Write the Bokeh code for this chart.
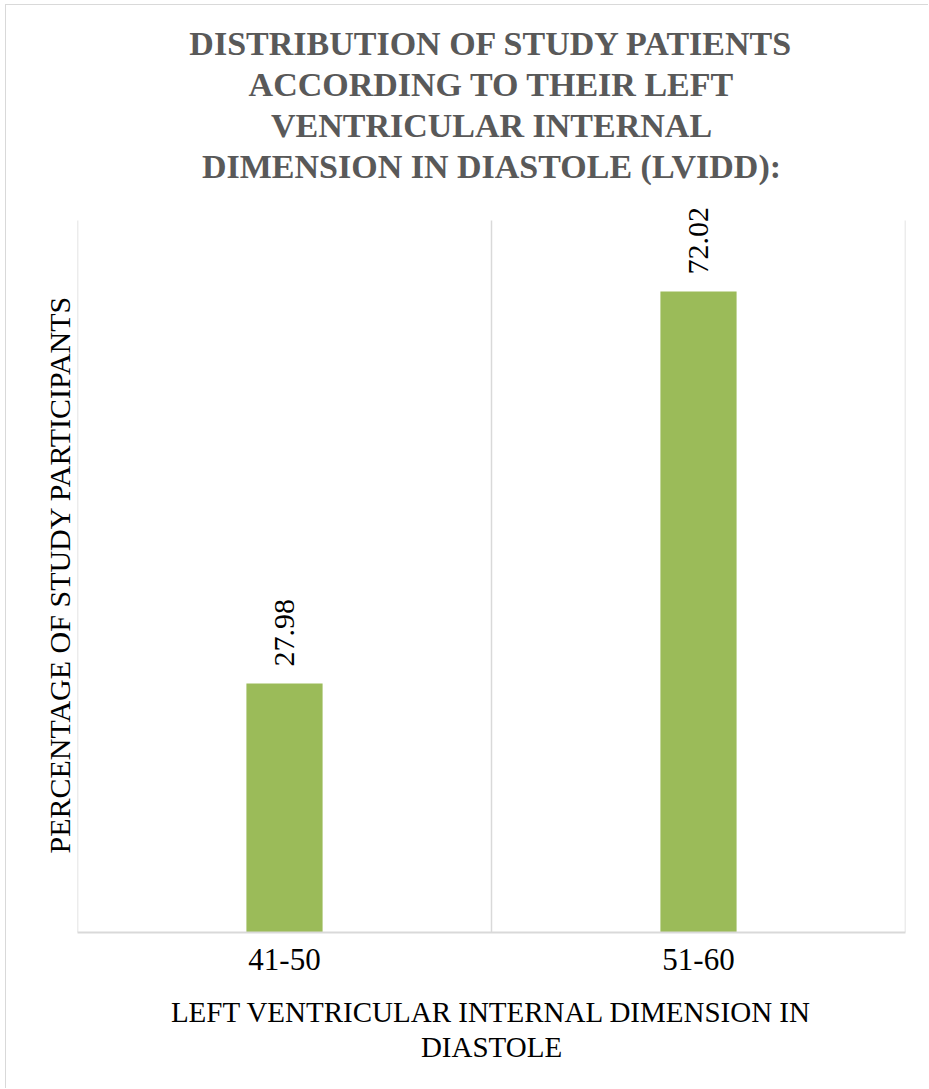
from math import pi

from bokeh.embed import file_html
from bokeh.models import ColumnDataSource, FixedTicker, Label, Range1d, Title
from bokeh.plotting import figure
from bokeh.resources import INLINE

# LVIDD groups and share of study participants (%)
categories = ["41-50", "51-60"]
percentages = [27.98, 72.02]
value_labels = ["27.98", "72.02"]
axis_max = 80

title_lines = [
    "DISTRIBUTION OF STUDY PATIENTS",
    "ACCORDING TO THEIR LEFT",
    "VENTRICULAR INTERNAL",
    "DIMENSION IN DIASTOLE (LVIDD):",
]

SERIF = "Liberation Serif"
GRID = "#d9d9d9"

# frame is a little taller than the value axis so the top labels have room
PLOT_H = 712
HEADROOM = 35

x_pos = [i + 0.5 for i in range(len(categories))]
edges = list(range(len(categories) + 1))
source = ColumnDataSource(data=dict(x=x_pos, top=percentages))

p = figure(
    width=923,
    height=1084,
    output_backend="svg",
    toolbar_location=None,
    x_range=Range1d(0, len(categories)),
    y_range=Range1d(0, axis_max * (PLOT_H + HEADROOM) / PLOT_H),
    min_border_left=71,
    min_border_right=24,
    min_border_top=215 - HEADROOM,
    min_border_bottom=157,
    margin=(4, 0, 0, 5),
    styles={"border-left": f"1px solid {GRID}", "border-top": f"1px solid {GRID}"},
)
p.outline_line_color = None
p.background_fill_color = "white"
p.border_fill_color = "white"

# Title, one centred line per Title (later additions sit higher up)
p.title = None
for line in reversed(title_lines):
    p.add_layout(Title(text=line, align="center", text_font=SERIF,
                       text_font_size="34px", text_font_style="bold",
                       text_color="#595959", standoff=2), "above")

# Vertical grid lines on the category band edges, up to the axis maximum
p.segment(x0=edges, y0=0, x1=edges, y1=axis_max, line_color=GRID, line_width=1.5)
p.xgrid.grid_line_color = None
p.ygrid.grid_line_color = None

# Bars
p.vbar(x="x", top="top", bottom=0, width=0.184, source=source,
       fill_color="#9BBB59", line_color=None)

# Rotated value labels above the bars
for x, top, text in zip(x_pos, percentages, value_labels):
    p.add_layout(Label(x=x, y=top, text=text, angle=pi / 2,
                       text_align="left", text_baseline="middle", y_offset=17,
                       text_font=SERIF, text_font_size="30px",
                       text_color="black"))

# X axis: category names centred in each band
p.xaxis.ticker = FixedTicker(ticks=x_pos)
p.xaxis.major_label_overrides = {x: c for x, c in zip(x_pos, categories)}
p.xaxis.major_label_text_font = SERIF
p.xaxis.major_label_text_font_size = "31px"
p.xaxis.major_label_text_color = "black"
p.xaxis.major_label_standoff = 10
p.xaxis.major_tick_line_color = None
p.xaxis.minor_tick_line_color = None
p.xaxis.axis_line_color = GRID
p.xaxis.axis_line_width = 2
p.xaxis.axis_label = "LEFT VENTRICULAR INTERNAL DIMENSION IN\nDIASTOLE"
p.xaxis.axis_label_text_font = SERIF
p.xaxis.axis_label_text_font_size = "29px"
p.xaxis.axis_label_text_font_style = "normal"
p.xaxis.axis_label_text_color = "black"
p.xaxis.axis_label_text_line_height = 1.1
p.xaxis.axis_label_standoff = 23

# Y axis title only, starting a little above the baseline
p.yaxis.visible = False
p.add_layout(Title(text="PERCENTAGE OF STUDY PARTICIPANTS", align="left",
                   offset=79, text_font=SERIF,
                   text_font_size="30px", text_font_style="normal",
                   text_color="black", standoff=4), "left")

open("out.html", "w").write(file_html(p, INLINE))
